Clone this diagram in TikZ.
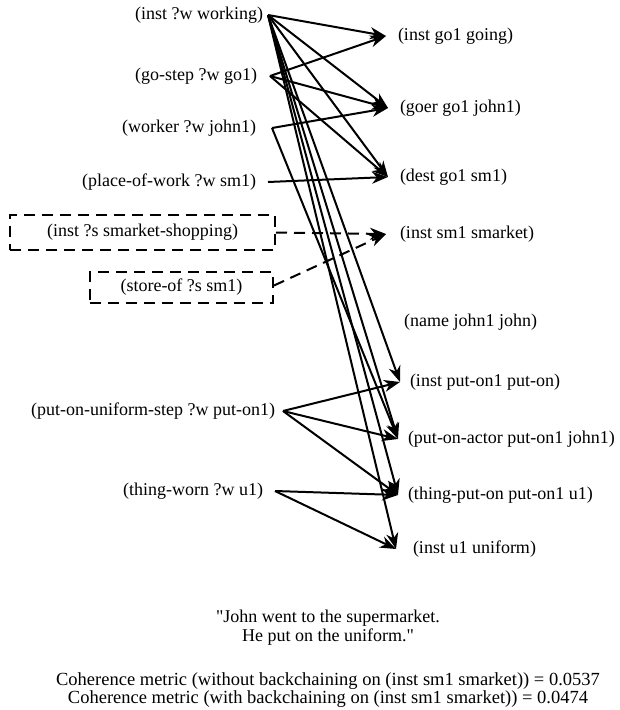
\documentclass[tikz,border=0pt]{standalone}
\usepackage{fontspec}
\setmainfont{Liberation Serif}
\newfontfamily\plainserif{Liberation Serif}
\usetikzlibrary{arrows.meta}
\tikzset{
  lnode/.style={anchor=east, inner sep=0pt, font=\fontsize{18}{21}\selectfont},
  rnode/.style={anchor=west, inner sep=0pt, font=\fontsize{18}{21}\selectfont},
  dbox/.style={draw, dash pattern=on 11pt off 7pt, line width=2pt, inner sep=0pt, font=\fontsize{18}{21}\selectfont},
  arr/.style={line width=2pt, -{Stealth[length=16pt,width=12pt,inset=5pt]}},
  darr/.style={arr, dash pattern=on 11pt off 7pt},
  quotetxt/.style={font=\plainserif\fontsize{18}{19}\selectfont, inner sep=0pt, align=center},
  metrictxt/.style={font=\fontsize{18.5}{16}\selectfont, inner sep=0pt, align=center}
}
\begin{document}
\begin{tikzpicture}[x=1pt,y=-1pt]
\useasboundingbox (0,0) rectangle (620,710);
% left nodes (placed at the point where their connectors start)
\node[lnode, outer xsep=5pt] (wk) at (268,15) {(inst ?w working)};
\node[lnode, outer xsep=13pt] (gs) at (270,76) {(go-step ?w go1)};
\node[lnode, outer xsep=16pt] (wr) at (272,128) {(worker ?w john1)};
\node[lnode, outer xsep=12pt] (pw) at (268,182) {(place-of-work ?w sm1)};
\node[dbox, minimum width=265pt, minimum height=35pt] (sh) at (142.5,232.5) {(inst ?s smarket-shopping)};
\node[dbox, minimum width=183pt, minimum height=31pt] (so) at (181.5,287.5) {(store-of ?s sm1)};
\node[lnode, outer xsep=8pt] (pu) at (283,411) {(put-on-uniform-step ?w put-on1)};
\node[lnode, outer xsep=12pt] (tw) at (275,491) {(thing-worn ?w u1)};
% right nodes (placed at their arrow tips)
\node[rnode, outer xsep=12pt] (go) at (386,36) {(inst go1 going)};
\node[rnode, outer xsep=12pt] (ge) at (388,108) {(goer go1 john1)};
\node[rnode, outer xsep=12pt] (de) at (388,177) {(dest go1 sm1)};
\node[rnode, outer xsep=14pt] (sm) at (386,234) {(inst sm1 smarket)};
\node[rnode] (nm) at (404,322) {(name john1 john)};
\node[rnode, outer xsep=10pt] (po) at (400,382) {(inst put-on1 put-on)};
\node[rnode, outer xsep=10pt] (ac) at (398,439) {(put-on-actor put-on1 john1)};
\node[rnode, outer xsep=10pt] (tp) at (398,495) {(thing-put-on put-on1 u1)};
\node[rnode, outer xsep=17pt] (un) at (396,549) {(inst u1 uniform)};
% connectors
\draw[arr] (wk.east) -- (go.west);
\draw[arr] (wk.east) -- (ge.west);
\draw[arr] (wk.east) -- (de.west);
\draw[arr] (wk.east) -- (po.west);
\draw[arr] (wk.east) -- (ac.west);
\draw[arr] (wk.east) -- (tp.west);
\draw[arr] (wk.east) -- (un.west);
\draw[arr] (gs.east) -- (go.west);
\draw[arr] (gs.east) -- (ge.west);
\draw[arr] (gs.east) -- (de.west);
\draw[arr] (wr.east) -- (ge.west);
\draw[arr] (wr.east) -- (ac.west);
\draw[arr] (pw.east) -- (de.west);
\draw[darr] (sh.east) -- (sm.west);
\draw[darr] ([yshift=2pt]so.east) -- (sm.west);
\draw[arr] (pu.east) -- (po.west);
\draw[arr] (pu.east) -- (ac.west);
\draw[arr] (pu.east) -- (tp.west);
\draw[arr] (tw.east) -- (tp.west);
\draw[arr] (tw.east) -- (un.west);
% captions
\node[quotetxt] (qt) at (328,627.5) {"John went to the supermarket.\\He put on the uniform."};
\node[metrictxt] (mt) at (328,690) {Coherence metric (without backchaining on (inst sm1 smarket)) = 0.0537\\Coherence metric (with backchaining on (inst sm1 smarket)) = 0.0474};
\end{tikzpicture}
\end{document}
